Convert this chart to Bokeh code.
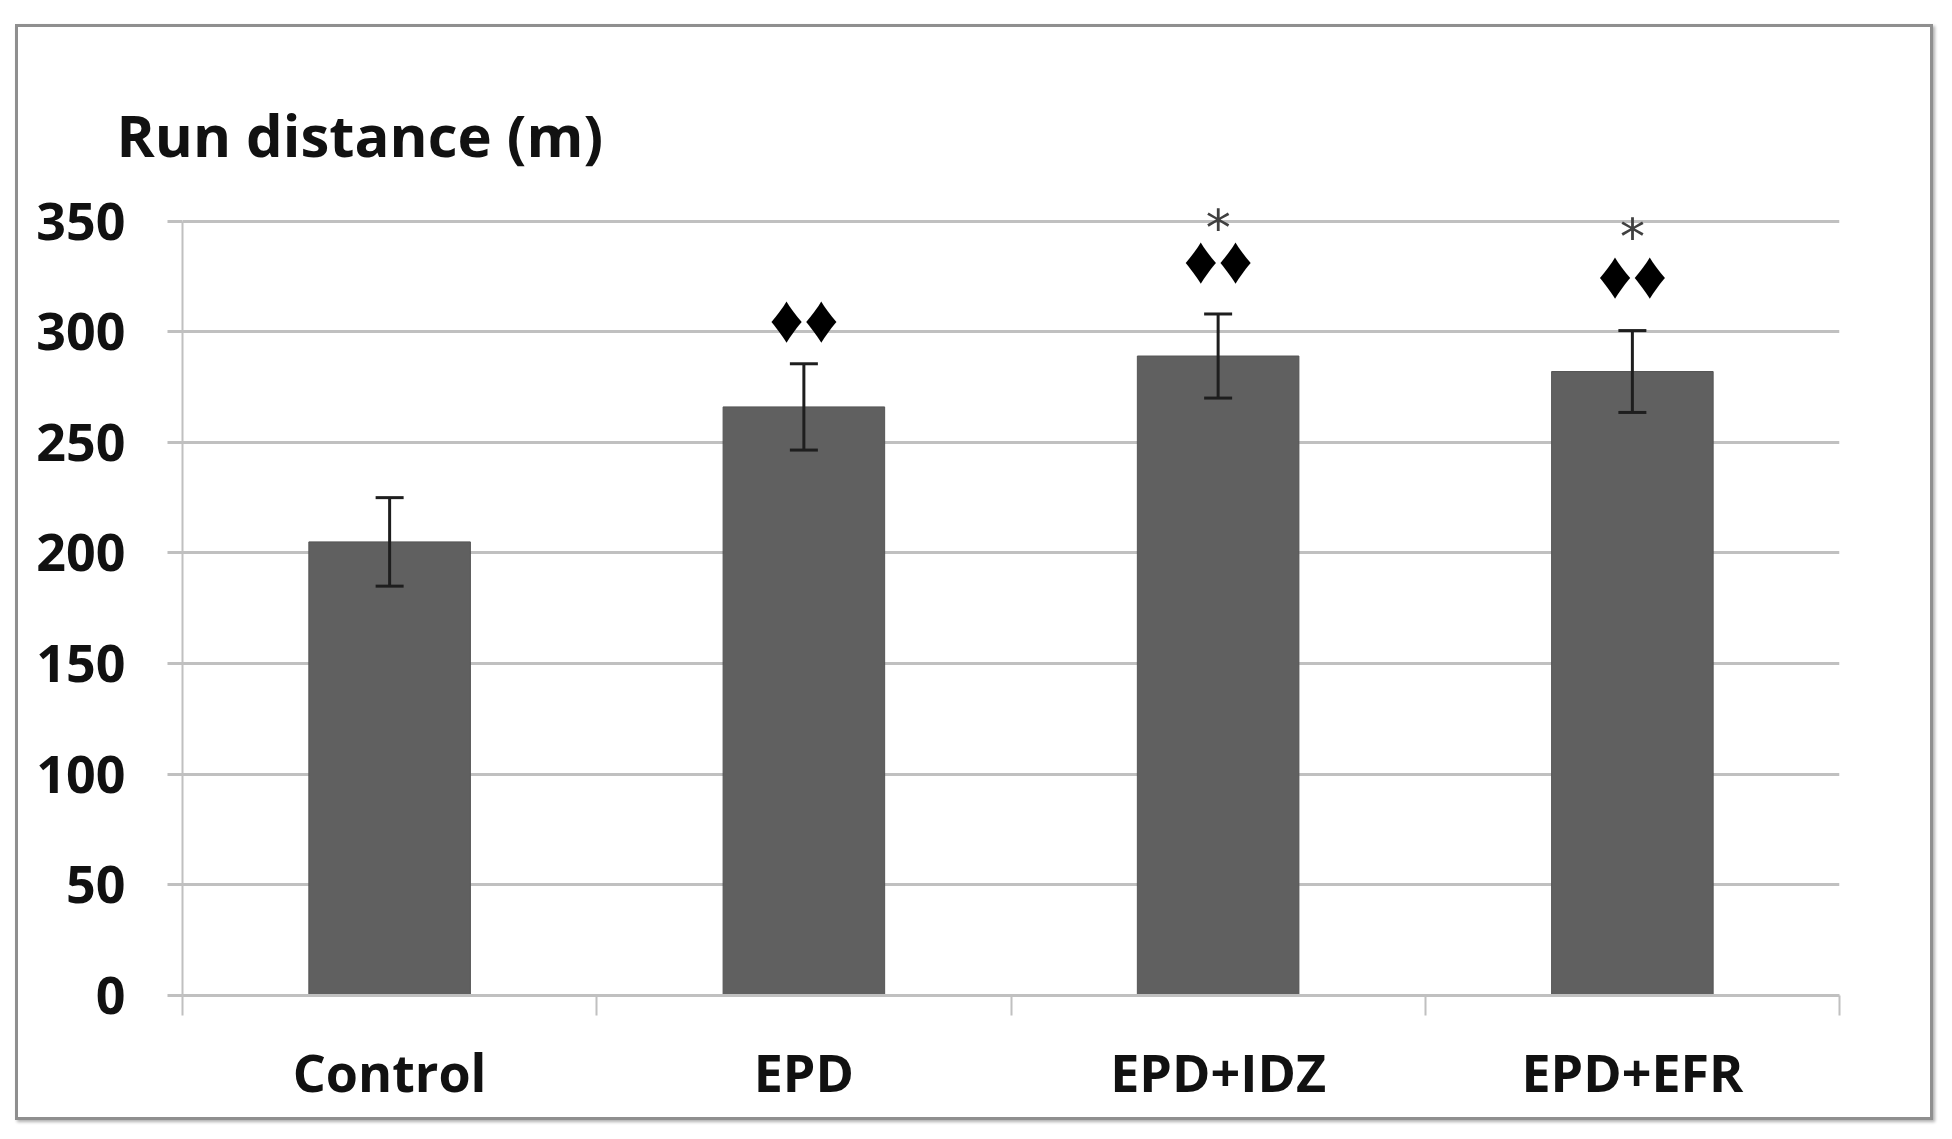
from bokeh.plotting import figure
from bokeh.models import ColumnDataSource, Whisker, TeeHead, FixedTicker, Range1d
from bokeh.core.properties import value
from bokeh.embed import file_html
from bokeh.resources import INLINE

# ---- data ----
categories = ["Control", "EPD", "EPD+IDZ", "EPD+EFR"]
means = [205, 266, 289, 282]
sems = [20, 19.5, 19, 18.5]
diamond_marks = ["", "♦♦", "♦♦", "♦♦"]
diamond_y = [0, 306, 333, 326]
star_marks = ["", "", "*", "*"]
star_y = [0, 0, 347, 343]
y_ticks = [0, 50, 100, 150, 200, 250, 300, 350]

xpos = [i + 0.5 for i in range(len(categories))]
boundaries = [float(i) for i in range(len(categories) + 1)]

src = ColumnDataSource(dict(
    x=xpos, cat=categories, mean=means,
    upper=[m + s for m, s in zip(means, sems)],
    lower=[m - s for m, s in zip(means, sems)],
))
dsrc = ColumnDataSource(dict(
    x=[xpos[i] for i in range(len(categories)) if diamond_marks[i]],
    y=[diamond_y[i] for i in range(len(categories)) if diamond_marks[i]],
    t=[diamond_marks[i] for i in range(len(categories)) if diamond_marks[i]],
))
ssrc = ColumnDataSource(dict(
    x=[xpos[i] for i in range(len(categories)) if star_marks[i]],
    y=[star_y[i] for i in range(len(categories)) if star_marks[i]],
    t=[star_marks[i] for i in range(len(categories)) if star_marks[i]],
))

FONT = "Open Sans"
GRID = "#c0c0c0"

p = figure(width=1918, height=1096,
           x_range=Range1d(0, len(categories)), y_range=Range1d(0, 362),
           output_backend="svg", toolbar_location=None,
           min_border_left=164, min_border_right=97,
           min_border_top=167, min_border_bottom=128)
p.margin = (24, 0, 0, 15)
p.styles = {"border": "3px solid #8f8f8f", "box-shadow": "2px 2px 3px #b0b0b0",
            "box-sizing": "border-box"}
p.outline_line_color = None
p.background_fill_color = "white"
p.border_fill_color = "white"

# title (y-axis caption)
p.title.text = "Run distance (m)"
p.title.align = "left"
p.title.offset = -66
p.title.text_font = FONT
p.title.text_font_size = "58px"
p.title.text_font_style = "bold"
p.title.text_color = "#111111"
p.title.standoff = 41

# bars
p.vbar(x="x", top="mean", width=0.39, bottom=0, source=src,
       fill_color="#606060", line_color="#555555", line_width=1)

# error bars
wh = Whisker(base="x", upper="upper", lower="lower", source=src,
             line_color="#1e1e1e", line_width=3,
             upper_head=TeeHead(size=28, line_color="#1e1e1e", line_width=3),
             lower_head=TeeHead(size=28, line_color="#1e1e1e", line_width=3))
wh.level = "overlay"
p.add_layout(wh)

# significance marks
p.text(x="x", y="y", text="t", source=dsrc, text_font=value("Liberation Sans"),
       text_font_size="68px", text_align="center", text_baseline="middle",
       text_color="black")
p.text(x="x", y="y", text="t", source=ssrc, text_font=value("DejaVu Sans"),
       text_font_size="50px", text_align="center", text_baseline="middle",
       text_color="#404040")

# grid
p.xgrid.visible = False
p.ygrid.ticker = FixedTicker(ticks=y_ticks)
p.ygrid.grid_line_color = GRID
p.ygrid.grid_line_width = 3

# y axis
ya = p.yaxis[0]
ya.ticker = FixedTicker(ticks=y_ticks)
ya.bounds = (0, 350)
ya.axis_line_color = GRID
ya.axis_line_width = 2
ya.major_tick_line_color = GRID
ya.major_tick_line_width = 3
ya.major_tick_out = 15
ya.major_tick_in = 0
ya.minor_tick_line_color = None
ya.major_label_text_font = FONT
ya.major_label_text_font_size = "52px"
ya.major_label_text_font_style = "bold"
ya.major_label_text_color = "#111111"
ya.major_label_standoff = 42

# x axis
xa = p.xaxis[0]
xa.ticker = FixedTicker(ticks=xpos, minor_ticks=boundaries)
xa.major_label_overrides = {x: c for x, c in zip(xpos, categories)}
xa.axis_line_color = GRID
xa.axis_line_width = 3
xa.major_tick_line_color = None
xa.major_tick_out = 0
xa.major_tick_in = 0
xa.minor_tick_line_color = GRID
xa.minor_tick_line_width = 2
xa.minor_tick_out = 20
xa.minor_tick_in = 0
xa.major_label_text_font = FONT
xa.major_label_text_font_size = "52px"
xa.major_label_text_font_style = "bold"
xa.major_label_text_color = "#111111"
xa.major_label_standoff = 20

open("out.html", "w").write(file_html(p, INLINE))
